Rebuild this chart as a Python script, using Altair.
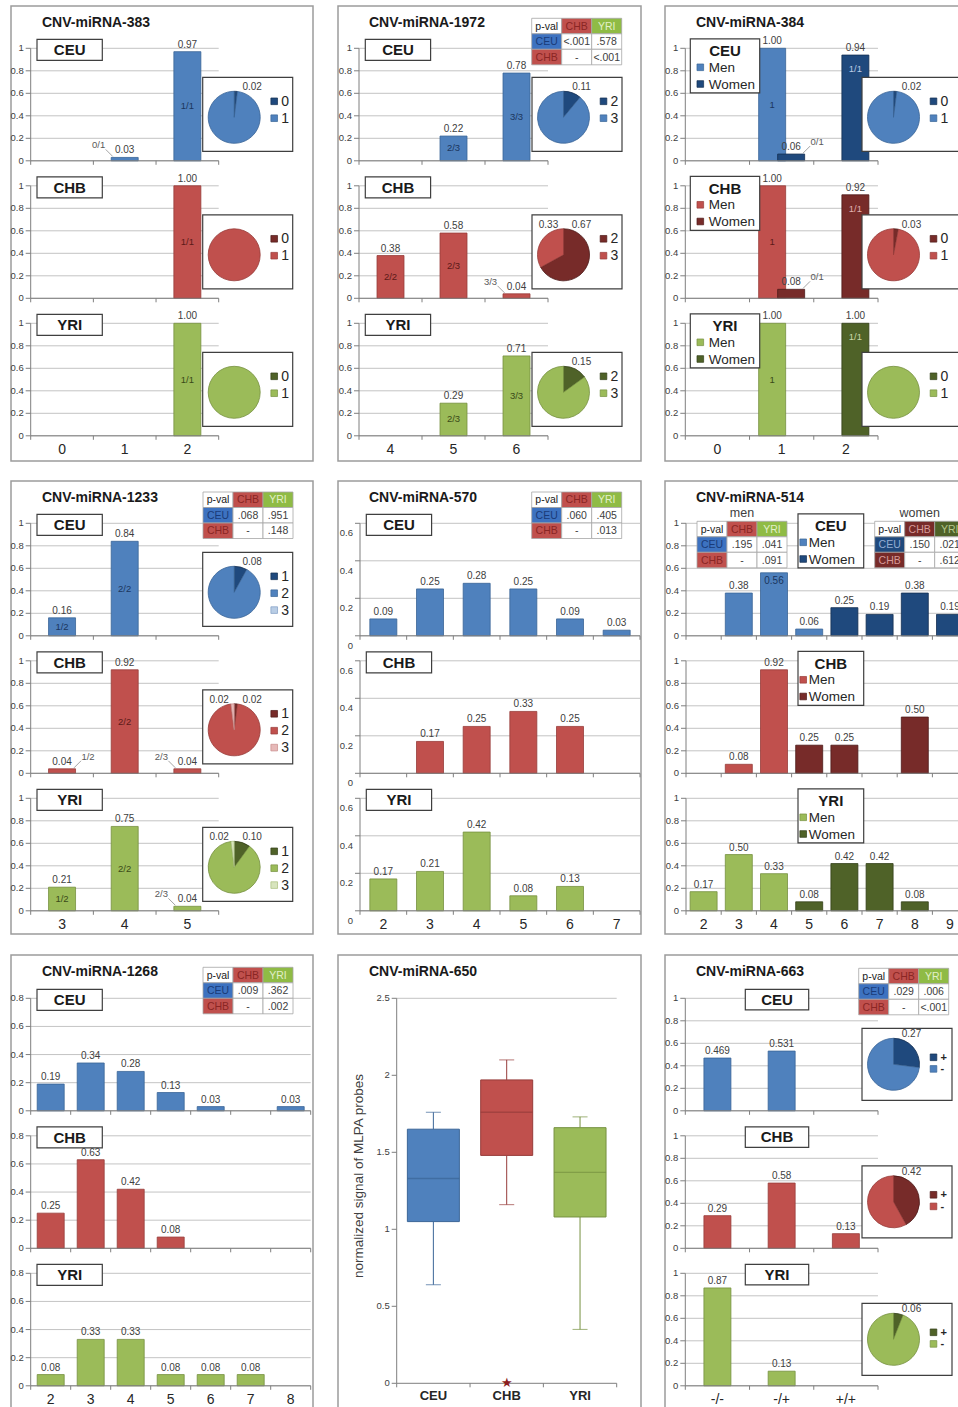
import altair as alt
import pandas as pd

# ---------------------------------------------------------------------------
# Copy-number / genotype frequencies per population
# ---------------------------------------------------------------------------
POPS = ["CEU", "CHB", "YRI"]

# CNV-miRNA-383
cn_383 = ["0", "1", "2"]
f383_ceu = [0, 0.03, 0.97]
f383_chb = [0, 0, 1.00]
f383_yri = [0, 0, 1.00]
g383_ceu = ["", "0/1", "1/1"]
g383_chb = ["", "", "1/1"]
g383_yri = ["", "", "1/1"]
allele_383 = ["0", "1"]
pie383_ceu = [0.02, 0.98]
pie383_chb = [0.0, 1.0]
pie383_yri = [0.0, 1.0]

# CNV-miRNA-1972
cn_1972 = ["4", "5", "6"]
f1972_ceu = [0, 0.22, 0.78]
f1972_chb = [0.38, 0.58, 0.04]
f1972_yri = [0, 0.29, 0.71]
g1972_ceu = ["", "2/3", "3/3"]
g1972_chb = ["2/2", "2/3", "3/3"]
g1972_yri = ["", "2/3", "3/3"]
allele_1972 = ["2", "3"]
pie1972_ceu = [0.11, 0.89]
pie1972_chb = [0.67, 0.33]
pie1972_yri = [0.15, 0.85]
pval_1972 = ["<.001", ".578", "<.001"]

# CNV-miRNA-384 (men / women)
cn_384 = ["0", "1", "2"]
f384_ceu_men = [0, 1.00, 0]
f384_ceu_women = [0, 0.06, 0.94]
f384_chb_men = [0, 1.00, 0]
f384_chb_women = [0, 0.08, 0.92]
f384_yri_men = [0, 1.00, 0]
f384_yri_women = [0, 0, 1.00]
g384_men = ["", "1", ""]
g384_women = ["", "0/1", "1/1"]
allele_384 = ["0", "1"]
pie384_ceu = [0.02, 0.98]
pie384_chb = [0.03, 0.97]
pie384_yri = [0.0, 1.0]

# CNV-miRNA-1233
cn_1233 = ["3", "4", "5"]
f1233_ceu = [0.16, 0.84, 0]
f1233_chb = [0.04, 0.92, 0.04]
f1233_yri = [0.21, 0.75, 0.04]
g1233 = ["1/2", "2/2", "2/3"]
allele_1233 = ["1", "2", "3"]
pie1233_ceu = [0.08, 0.92, 0.0]
pie1233_chb = [0.02, 0.96, 0.02]
pie1233_yri = [0.10, 0.88, 0.02]
pval_1233 = [".068", ".951", ".148"]

# CNV-miRNA-570
cn_570 = ["2", "3", "4", "5", "6", "7"]
f570_ceu = [0.09, 0.25, 0.28, 0.25, 0.09, 0.03]
f570_chb = [0, 0.17, 0.25, 0.33, 0.25, 0]
f570_yri = [0.17, 0.21, 0.42, 0.08, 0.13, 0]
pval_570 = [".060", ".405", ".013"]

# CNV-miRNA-514 (men / women)
cn_514 = ["2", "3", "4", "5", "6", "7", "8", "9"]
f514_ceu_men = [0, 0.38, 0.56, 0.06, 0, 0, 0, 0]
f514_ceu_women = [0, 0, 0, 0, 0.25, 0.19, 0.38, 0.19]
f514_chb_men = [0, 0.08, 0.92, 0, 0, 0, 0, 0]
f514_chb_women = [0, 0, 0, 0.25, 0.25, 0, 0.50, 0]
f514_yri_men = [0.17, 0.50, 0.33, 0, 0, 0, 0, 0]
f514_yri_women = [0, 0, 0, 0.08, 0.42, 0.42, 0.08, 0]
pval_514_men = [".195", ".041", ".091"]
pval_514_women = [".150", ".021", ".612"]

# CNV-miRNA-1268
cn_1268 = ["2", "3", "4", "5", "6", "7", "8"]
f1268_ceu = [0.19, 0.34, 0.28, 0.13, 0.03, 0, 0.03]
f1268_chb = [0.25, 0.63, 0.42, 0.08, 0, 0, 0]
f1268_yri = [0.08, 0.33, 0.33, 0.08, 0.08, 0.08, 0]
pval_1268 = [".009", ".362", ".002"]

# CNV-miRNA-650: normalized MLPA signal summaries
box_pops = ["CEU", "CHB", "YRI"]
box_min = [0.64, 1.16, 0.35]
box_q1 = [1.05, 1.48, 1.08]
box_med = [1.33, 1.76, 1.37]
box_q3 = [1.65, 1.97, 1.66]
box_max = [1.76, 2.10, 1.73]

# CNV-miRNA-663
gt_663 = ["-/-", "-/+", "+/+"]
f663_ceu = [0.469, 0.531, 0]
f663_chb = [0.29, 0.58, 0.13]
f663_yri = [0.87, 0.13, 0]
allele_663 = ["+", "-"]
pie663_ceu = [0.27, 0.73]
pie663_chb = [0.42, 0.58]
pie663_yri = [0.06, 0.94]
pval_663 = [".029", ".006", "<.001"]

# ---------------------------------------------------------------------------
# Styling
# ---------------------------------------------------------------------------
FONT = "Liberation Sans"
INK = "#404040"
AXC = "#7f7f7f"
GRIDC = "#c4c4c4"
BOXC = "#3f3f3f"
FRAMEC = "#9c9c9c"

PAL = {
    "CEU": {"base": "#4f81bd", "dark": "#1f497d", "light": "#b9cde5",
            "base_e": "#3a6597", "dark_e": "#142f52", "light_e": "#7f9cc4",
            "base_t": "#1b365d", "dark_t": "#b9cbe4"},
    "CHB": {"base": "#c0504d", "dark": "#772b29", "light": "#e6b9b8",
            "base_e": "#973c3a", "dark_e": "#4d1a19", "light_e": "#c98b89",
            "base_t": "#5c1a18", "dark_t": "#e0b0ae"},
    "YRI": {"base": "#9bbb59", "dark": "#4f6228", "light": "#d7e4bd",
            "base_e": "#769140", "dark_e": "#323f18", "light_e": "#a9bf7d",
            "base_t": "#3a4a18", "dark_t": "#c8d8a6"},
}
HDR = {"CEU": ("#3d72c0", "#1a3b78"), "CHB": ("#c0504d", "#8a2624"), "YRI": ("#8fbb45", "#e2efc9")}
HDR_W = {"CEU": ("#1f497d", "#93acd2"), "CHB": ("#772b29", "#d69a98"), "YRI": ("#4f6228", "#b5c78e")}

# ---------------------------------------------------------------------------
# Page geometry (pixels)
# ---------------------------------------------------------------------------
W, H = 958, 1407
COL_X = [11, 338, 665]
COL_W = [302, 303, 305]
ROW_Y = [6, 481, 955]
ROW_H = [455, 453, 460]
SUB_TOP = [48.3, 523.3, 998.3]
SUB_STEP = 137.5
SUB_H = 112.5
BAR_W = 27
T10 = [0, 0.2, 0.4, 0.6, 0.8, 1.0]


def S(vals, genos=None, shade="base", off=0.0, anchor="mid"):
    return dict(vals=vals, genos=genos if genos else [""] * len(vals),
                shade=shade, off=off, anchor=anchor)


PANELS = [
    dict(title="CNV-miRNA-383", row=0, col=0, x=(30.7, 218.7), cats=cn_383, ymax=1.0, yticks=T10,
         bars={"CEU": [S(f383_ceu, g383_ceu)], "CHB": [S(f383_chb, g383_chb)],
               "YRI": [S(f383_yri, g383_yri)]},
         tag=dict(kind="box"),
         pie=dict(keys=allele_383, vals={"CEU": pie383_ceu, "CHB": pie383_chb, "YRI": pie383_yri},
                  labels={"CEU": [0]}),
         leaders={("CEU", "1"): -1}),
    dict(title="CNV-miRNA-1972", row=0, col=1, x=(359, 548), cats=cn_1972, ymax=1.0, yticks=T10,
         bars={"CEU": [S(f1972_ceu, g1972_ceu)], "CHB": [S(f1972_chb, g1972_chb)],
               "YRI": [S(f1972_yri, g1972_yri)]},
         tag=dict(kind="box"),
         pie=dict(keys=allele_1972, vals={"CEU": pie1972_ceu, "CHB": pie1972_chb, "YRI": pie1972_yri},
                  labels={"CEU": [0], "CHB": [0, 1], "YRI": [0]}),
         tables=[dict(pos=(531.7, 18.3), vals=pval_1972, dark=False)],
         leaders={("CHB", "6"): -1}),
    dict(title="CNV-miRNA-384", row=0, col=2, x=(685.3, 878), cats=cn_384, ymax=1.0, yticks=T10,
         bars={"CEU": [S(f384_ceu_men, g384_men, "base", -9.5),
                       S(f384_ceu_women, g384_women, "dark", 9.5, "top")],
               "CHB": [S(f384_chb_men, g384_men, "base", -9.5),
                       S(f384_chb_women, g384_women, "dark", 9.5, "top")],
               "YRI": [S(f384_yri_men, g384_men, "base", -9.5),
                       S(f384_yri_women, g384_women, "dark", 9.5, "top")]},
         tag=dict(kind="legend", dx=5, w=69.4, sq=10, tx=18.4),
         pie=dict(keys=allele_384, vals={"CEU": pie384_ceu, "CHB": pie384_chb, "YRI": pie384_yri},
                  labels={"CEU": [0], "CHB": [0]}, box_w=104),
         leaders={("CEU", "1"): 1, ("CHB", "1"): 1}),
    dict(title="CNV-miRNA-1233", row=1, col=0, x=(30.7, 218.7), cats=cn_1233, ymax=1.0, yticks=T10,
         bars={"CEU": [S(f1233_ceu, g1233)], "CHB": [S(f1233_chb, g1233)], "YRI": [S(f1233_yri, g1233)]},
         tag=dict(kind="box"),
         pie=dict(keys=allele_1233, vals={"CEU": pie1233_ceu, "CHB": pie1233_chb, "YRI": pie1233_yri},
                  labels={"CEU": [0], "CHB": [0, 2], "YRI": [0, 2]}),
         tables=[dict(pos=(203, 492), vals=pval_1233, dark=False)],
         leaders={("CHB", "3"): 1, ("CHB", "5"): -1, ("YRI", "5"): -1}),
    dict(title="CNV-miRNA-570", row=1, col=1, x=(360, 640), cats=cn_570, ymax=0.6,
         yticks=[0, 0.2, 0.4, 0.6], ylab_off=10,
         bars={"CEU": [S(f570_ceu)], "CHB": [S(f570_chb)], "YRI": [S(f570_yri)]},
         tag=dict(kind="box"),
         tables=[dict(pos=(531.7, 492), vals=pval_570, dark=False)]),
    dict(title="CNV-miRNA-514", row=1, col=2, x=(686, 967.6), cats=cn_514, ymax=1.0, yticks=T10,
         bars={"CEU": [S(f514_ceu_men), S(f514_ceu_women, shade="dark")],
               "CHB": [S(f514_chb_men), S(f514_chb_women, shade="dark")],
               "YRI": [S(f514_yri_men), S(f514_yri_women, shade="dark")]},
         tag=dict(kind="legend", dx=112, w=65.7, sq=5.2, tx=10.7),
         tables=[dict(pos=(697, 521.3), vals=pval_514_men, dark=False, caption="men"),
                 dict(pos=(874.7, 521.3), vals=pval_514_women, dark=True, caption="women")],
         inside={("CEU", "4")}),
    dict(title="CNV-miRNA-1268", row=2, col=0, x=(30.7, 310.7), cats=cn_1268, ymax=0.8,
         yticks=[0, 0.2, 0.4, 0.6, 0.8],
         bars={"CEU": [S(f1268_ceu)], "CHB": [S(f1268_chb)], "YRI": [S(f1268_yri)]},
         tag=dict(kind="box"),
         tables=[dict(pos=(203, 967.3), vals=pval_1268, dark=False)]),
    dict(title="CNV-miRNA-663", row=2, col=2, x=(685.3, 878), cats=gt_663, ymax=1.0, yticks=T10,
         bars={"CEU": [S(f663_ceu)], "CHB": [S(f663_chb)], "YRI": [S(f663_yri)]},
         tag=dict(kind="center"),
         pie=dict(keys=allele_663, vals={"CEU": pie663_ceu, "CHB": pie663_chb, "YRI": pie663_yri},
                  labels={"CEU": [0], "CHB": [0], "YRI": [0]}, compact=True),
         tables=[dict(pos=(858.7, 968.3), vals=pval_663, dark=False)]),
]

# ---------------------------------------------------------------------------
# Collectors for annotation layers
# ---------------------------------------------------------------------------
rects_back, rects_front, texts, squares = [], [], [], []
pie_layers, data_layers = [], []


def fmt(v):
    return f"{v:.3f}" if abs(round(v, 2) - v) > 1e-9 else f"{v:.2f}"


def add_text(x, y, text, size, color=INK, weight="normal", align="center",
             baseline="middle", angle=0.0):
    texts.append(dict(x=x, y=y, text=text, size=size, color=color, weight=weight,
                      align=align, baseline=baseline, angle=float(angle)))


def add_rect(lst, x, y, w, h, fill="#ffffff", stroke=BOXC, sw=1.2):
    lst.append(dict(x=x, x2=x + w, y=y, y2=y + h, fill=fill, stroke=stroke, sw=sw))


def add_table(x, y, vals, dark=False):
    cw, ch = 30, 15.5
    hdr = HDR_W if dark else HDR
    grid = [
        [("p-val", "#ffffff", "#1a1a1a"), ("CHB",) + hdr["CHB"], ("YRI",) + hdr["YRI"]],
        [("CEU",) + hdr["CEU"], (vals[0], "#ffffff", INK), (vals[1], "#ffffff", INK)],
        [("CHB",) + hdr["CHB"], ("-", "#ffffff", INK), (vals[2], "#ffffff", INK)],
    ]
    for r, line in enumerate(grid):
        for c, (t, bg, fg) in enumerate(line):
            xa, ya = x + c * cw, y + r * ch
            add_rect(rects_front, xa, ya, cw, ch, fill=bg, stroke="#a6a6a6", sw=0.8)
            add_text(xa + cw / 2, ya + ch / 2 + 0.5, t, 10.5, fg)


def add_pie(cx, cy, keys, vals, pop, labels):
    shades = ["dark", "base", "light"] if len(keys) == 3 else ["dark", "base"]
    rows = [dict(k=i, v=v, fill=PAL[pop][sh], edge=PAL[pop][sh + "_e"])
            for i, (v, sh) in enumerate(zip(vals, shades)) if v > 0]
    pie_layers.append(
        alt.Chart(pd.DataFrame(rows)).mark_arc(radius=26, strokeWidth=0.8).encode(
            theta=alt.Theta("v:Q", stack=True, scale=alt.Scale(domain=[0, 1])),
            order=alt.Order("k:Q"),
            color=alt.Color("fill:N", scale=None),
            stroke=alt.Stroke("edge:N", scale=None),
            x=alt.value(cx), y=alt.value(cy),
        )
    )
    for i in labels:
        dx = 18 if i == 0 else -15
        add_text(cx + dx, cy - 30, fmt(vals[i]), 10, INK)


def axis_layers(X, Y, x0, x1, cats, ticks, ymax, xlabels, ylab_off=0, grid_ticks=None,
                xfont=(14, "normal")):
    """Gridlines, axis lines, ticks and tick labels drawn through the panel's scales."""
    tdf = pd.DataFrame({"t": ticks, "lab": [f"{t:g}" for t in ticks]})
    gdf = pd.DataFrame({"t": ticks if grid_ticks is None else grid_ticks})
    zdf = pd.DataFrame({"z": [0.0], "m": [float(ymax)]})
    cdf = pd.DataFrame({"cat": cats, "z": [0.0] * len(cats)})
    step = (x1 - x0) / len(cats)
    back = [alt.Chart(gdf).mark_rule(color=GRIDC, strokeWidth=1).encode(
        y=Y("t"), x=alt.value(x0), x2=alt.value(x1))]
    front = [
        alt.Chart(zdf).mark_rule(color=AXC, strokeWidth=1).encode(
            x=alt.value(x0), y=Y("z"), y2=alt.Y2("m")),
        alt.Chart(tdf).mark_rule(color=AXC, strokeWidth=1).encode(
            y=Y("t"), x=alt.value(x0 - 5), x2=alt.value(x0)),
        alt.Chart(tdf).mark_text(align="right", baseline="middle", dy=ylab_off, fontSize=9.5,
                                 color=INK).encode(y=Y("t"), x=alt.value(x0 - 7), text="lab:N"),
        alt.Chart(zdf).mark_rule(color=AXC, strokeWidth=1).encode(
            y=Y("z"), x=alt.value(x0), x2=alt.value(x1)),
        alt.Chart(cdf).mark_rule(color=AXC, strokeWidth=1, xOffset=-step / 2, y2Offset=4).encode(
            x=X("cat"), y=Y("z"), y2=alt.Y2("z")),
        alt.Chart(cdf.tail(1)).mark_rule(color=AXC, strokeWidth=1, xOffset=step / 2, y2Offset=4).encode(
            x=X("cat"), y=Y("z"), y2=alt.Y2("z")),
    ]
    if xlabels:
        front.append(alt.Chart(cdf).mark_text(baseline="top", dy=7, fontSize=xfont[0],
                                              fontWeight=xfont[1], color="#262626").encode(
            x=X("cat"), y=Y("z"), text="cat:N"))
    return back, front


def bar_subplot(P, k, pop):
    row = P["row"]
    top = SUB_TOP[row] + k * SUB_STEP
    base = top + SUB_H
    x0, x1 = P["x"]
    cats = P["cats"]
    xs = alt.Scale(domain=cats, range=[x0, x1], paddingInner=0, paddingOuter=0)
    ys = alt.Scale(domain=[0, P["ymax"]], range=[base, top], nice=False, zero=True)
    pal = PAL[pop]
    inside = P.get("inside", set())
    leaders = P.get("leaders", {})

    def X(field="cat"):
        return alt.X(f"{field}:N", scale=xs, axis=None)

    def Y(field="v"):
        return alt.Y(f"{field}:Q", scale=ys, axis=None)

    back, front = axis_layers(X, Y, x0, x1, cats, P["yticks"], P["ymax"], k == 2,
                              ylab_off=P.get("ylab_off", 0))
    parts = list(back)
    for s in P["bars"][pop]:
        rows = [dict(cat=c, v=v, mid=v / 2, lab=fmt(v), geno=g)
                for c, v, g in zip(cats, s["vals"], s["genos"]) if v > 0]
        df = pd.DataFrame(rows)
        off = s["off"]
        parts.append(
            alt.Chart(df).mark_bar(width=BAR_W, xOffset=off, fill=pal[s["shade"]],
                                   stroke=pal[s["shade"] + "_e"], strokeWidth=0.8).encode(
                x=X(), y=Y())
        )
        is_in = [(pop, c) in inside for c in df["cat"]]
        up = df[[not b for b in is_in]]
        if len(up):
            parts.append(alt.Chart(up).mark_text(baseline="bottom", dx=off, dy=-2, fontSize=10,
                                                 color=INK).encode(x=X(), y=Y(), text="lab:N"))
        ins = df[is_in]
        if len(ins):
            parts.append(alt.Chart(ins).mark_text(baseline="top", dx=off, dy=3, fontSize=10,
                                                  color=pal["base_t"]).encode(x=X(), y=Y(), text="lab:N"))
        tall = df[(df["geno"] != "") & (df["v"] >= 0.1)]
        if len(tall):
            tcol = pal[s["shade"] + "_t"]
            if s["anchor"] == "mid":
                parts.append(alt.Chart(tall).mark_text(baseline="middle", dx=off, fontSize=9.5,
                                                       color=tcol).encode(x=X(), y=Y("mid"), text="geno:N"))
            else:
                parts.append(alt.Chart(tall).mark_text(baseline="middle", dx=off, dy=14, fontSize=9.5,
                                                       color=tcol).encode(x=X(), y=Y(), text="geno:N"))
        small = df[(df["geno"] != "") & (df["v"] < 0.1)]
        for _, r in small.iterrows():
            side = leaders.get((pop, r["cat"]), -1)
            one = pd.DataFrame([r.to_dict()])
            parts.append(alt.Chart(one).mark_text(baseline="middle", dx=off + side * 26, dy=-12,
                                                  fontSize=9.5, color="#595959").encode(
                x=X(), y=Y(), text="geno:N"))
            parts.append(alt.Chart(one).mark_rule(xOffset=off + side * 19, x2Offset=off + side * 12,
                                                  yOffset=-8, y2Offset=-1, color="#8c8c8c",
                                                  strokeWidth=0.8).encode(
                x=X(), x2=alt.X2("cat"), y=Y(), y2=alt.Y2("v")))
    parts.extend(front)
    return alt.layer(*parts)


for P in PANELS:
    r, c = P["row"], P["col"]
    add_rect(rects_back, COL_X[c], ROW_Y[r], COL_W[c], ROW_H[r], fill="transparent",
             stroke=FRAMEC, sw=1.5)
    add_text(COL_X[c] + 31, ROW_Y[r] + 20.5, P["title"], 14, "#1a1a1a", "bold",
             align="left", baseline="alphabetic")
    x0, x1 = P["x"]
    for k, pop in enumerate(POPS):
        top = SUB_TOP[r] + k * SUB_STEP
        data_layers.append(bar_subplot(P, k, pop))
        tag = P["tag"]
        if tag["kind"] == "box":
            add_rect(rects_front, x0 + 6.3, top - 9, 65.3, 21)
            add_text(x0 + 39, top + 1.8, pop, 15, "#1a1a1a", "bold")
        elif tag["kind"] == "center":
            add_rect(rects_front, x0 + 60, top - 9, 63.4, 20.5)
            add_text(x0 + 91.7, top + 1.5, pop, 15, "#1a1a1a", "bold")
        else:
            bx = x0 + tag["dx"]
            add_rect(rects_front, bx, top - 9.5, tag["w"], 54)
            add_text(bx + tag["w"] / 2, top + 3, pop, 15, "#1a1a1a", "bold")
            for j, (lab, sh) in enumerate([("Men", "base"), ("Women", "dark")]):
                yy = top + 19 + j * 16.7
                squares.append(dict(x=bx + tag["sq"], y=yy, fill=PAL[pop][sh], edge=PAL[pop][sh + "_e"]))
                add_text(bx + tag["tx"], yy + 0.5, lab, 13.5, "#262626", align="left")
        if "pie" in P:
            pie = P["pie"]
            compact = pie.get("compact", False)
            bx, by = x1 - 16, top + (30 if compact else 29)
            bh = 72 if compact else 74
            add_rect(rects_front, bx, by, pie.get("box_w", 90), bh)
            cx, cy = bx + 31.5, by + (36 if compact else 40)
            add_pie(cx, cy, pie["keys"], pie["vals"][pop], pop, pie["labels"].get(pop, []))
            shades = ["dark", "base", "light"] if len(pie["keys"]) == 3 else ["dark", "base"]
            ly0, lstep = (29, 11.6) if compact else (24, 16.9)
            for j, (key, sh) in enumerate(zip(pie["keys"], shades)):
                yy = by + ly0 + j * lstep
                squares.append(dict(x=bx + 71.5, y=yy, fill=PAL[pop][sh], edge=PAL[pop][sh + "_e"]))
                add_text(bx + 78.5, yy + 0.5, key, 11 if compact else 14, "#262626",
                         "bold" if compact else "normal", align="left")
    for t in P.get("tables", []):
        add_table(t["pos"][0], t["pos"][1], t["vals"], t["dark"])
        if "caption" in t:
            add_text(t["pos"][0] + 45, t["pos"][1] - 4, t["caption"], 12.5, INK, baseline="alphabetic")


# ---------------------------------------------------------------------------
# CNV-miRNA-650 box plot
# ---------------------------------------------------------------------------
def box_panel():
    x0, x1 = 396.7, 616.7
    top, base = 998.3, 1383.3
    xs = alt.Scale(domain=box_pops, range=[x0, x1], paddingInner=0, paddingOuter=0)
    ys = alt.Scale(domain=[0, 2.5], range=[base, top], nice=False, zero=True)
    df = pd.DataFrame(dict(cat=box_pops, lo=box_min, q1=box_q1, med=box_med, q3=box_q3, hi=box_max,
                           fill=[PAL[p]["base"] for p in box_pops],
                           edge=[PAL[p]["base_e"] for p in box_pops]))

    def X(field="cat"):
        return alt.X(f"{field}:N", scale=xs, axis=None)

    def Y(field):
        return alt.Y(f"{field}:Q", scale=ys, axis=None)

    back, front = axis_layers(X, Y, x0, x1, box_pops, [0, 0.5, 1, 1.5, 2, 2.5], 2.5, True,
                              grid_ticks=[2.5], xfont=(13, "bold"))
    col = alt.Color("edge:N", scale=None)
    upper = alt.Chart(df).mark_rule(strokeWidth=1).encode(x=X(), y=Y("q3"), y2=alt.Y2("hi"), color=col)
    lower = alt.Chart(df).mark_rule(strokeWidth=1).encode(x=X(), y=Y("lo"), y2=alt.Y2("q1"), color=col)
    cap_hi = alt.Chart(df).mark_tick(size=15, thickness=1).encode(x=X(), y=Y("hi"), color=col)
    cap_lo = alt.Chart(df).mark_tick(size=15, thickness=1).encode(x=X(), y=Y("lo"), color=col)
    box = alt.Chart(df).mark_bar(width=52, strokeWidth=1).encode(
        x=X(), y=Y("q1"), y2=alt.Y2("q3"),
        color=alt.Color("fill:N", scale=None), stroke=alt.Stroke("edge:N", scale=None))
    med = alt.Chart(df).mark_tick(size=52, thickness=1.3).encode(x=X(), y=Y("med"), color=col)
    star = alt.Chart(pd.DataFrame({"cat": ["CHB"], "z": [0.0]})).mark_text(
        text="★", fontSize=13, color="#8b1c1c", baseline="middle").encode(x=X(), y=Y("z"))
    return alt.layer(*back, upper, lower, cap_hi, cap_lo, box, med, *front, star)


add_rect(rects_back, COL_X[1], ROW_Y[2], COL_W[1], ROW_H[2], fill="transparent", stroke=FRAMEC, sw=1.5)
add_text(COL_X[1] + 31, ROW_Y[2] + 20.5, "CNV-miRNA-650", 14, "#1a1a1a", "bold",
         align="left", baseline="alphabetic")
add_text(359, 1176, "normalized signal of MLPA probes", 13.5, INK, angle=270)
data_layers.append(box_panel())


# ---------------------------------------------------------------------------
# Annotation layers
# ---------------------------------------------------------------------------
def rect_layer(items):
    return alt.Chart(pd.DataFrame(items)).mark_rect().encode(
        x=alt.X("x:Q", scale=None, axis=None), x2=alt.X2("x2"),
        y=alt.Y("y:Q", scale=None, axis=None), y2=alt.Y2("y2"),
        color=alt.Color("fill:N", scale=None),
        stroke=alt.Stroke("stroke:N", scale=None),
        strokeWidth=alt.StrokeWidth("sw:Q", scale=None))


def square_layer(items):
    return alt.Chart(pd.DataFrame(items)).mark_square(size=44, strokeWidth=0.7, opacity=1).encode(
        x=alt.X("x:Q", scale=None, axis=None), y=alt.Y("y:Q", scale=None, axis=None),
        color=alt.Color("fill:N", scale=None), stroke=alt.Stroke("edge:N", scale=None))


def text_layers(items):
    df = pd.DataFrame(items)
    out = []
    for (wt, al, bl, ang), g in df.groupby(["weight", "align", "baseline", "angle"], sort=False):
        out.append(alt.Chart(g.reset_index(drop=True)).mark_text(
            fontWeight=wt, align=al, baseline=bl, angle=float(ang), font=FONT).encode(
            x=alt.X("x:Q", scale=None, axis=None), y=alt.Y("y:Q", scale=None, axis=None),
            text="text:N", size=alt.Size("size:Q", scale=None),
            color=alt.Color("color:N", scale=None)))
    return out


layers = ([rect_layer(rects_back)] + data_layers + [rect_layer(rects_front), square_layer(squares)]
          + pie_layers + text_layers(texts))

chart = (
    alt.layer(*layers)
    .resolve_scale(x="independent", y="independent")
    .properties(width=W, height=H, padding=0, autosize=alt.AutoSizeParams(type="none"))
    .configure(background="white")
    .configure_view(stroke=None)
    .configure_text(font=FONT)
)

chart.save("out.html", embed_options={"renderer": "svg", "actions": False})
